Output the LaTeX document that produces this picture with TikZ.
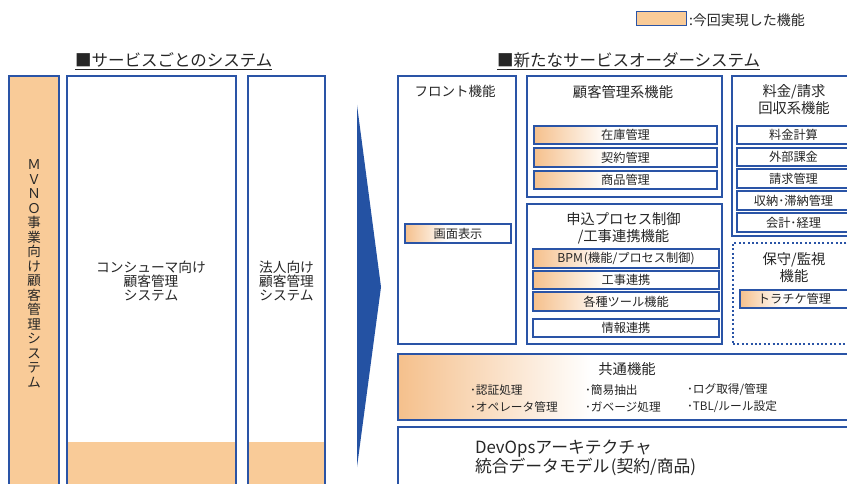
\documentclass[tikz,border=0pt]{standalone}
\usepackage{fontspec}
\setmainfont{Noto Sans CJK JP}
\definecolor{bblue}{RGB}{42,84,166}
\definecolor{ablue}{RGB}{36,82,163}
\definecolor{orfill}{RGB}{249,203,152}
\definecolor{gor}{RGB}{245,192,140}
\definecolor{tgray}{RGB}{38,38,38}
\pgfdeclarehorizontalshading{orfade}{100bp}{color(0bp)=(gor); color(25bp)=(gor); color(45bp)=(white); color(100bp)=(white)}
\newcommand\myfs[2]{\fontsize{#1}{#2}\selectfont}
\newcommand\bbox[7]{\node[#2, anchor=north west, minimum width={#5-#3}, minimum height={#6-#4}] (#1) at (#3,#4) {#7};}
\tikzset{
  bigbox/.style={draw=bblue, line width=2pt, fill=white, inner sep=0pt, outer sep=0pt},
  dotbox/.style={draw=bblue, line width=2pt, fill=white, inner sep=0pt, outer sep=0pt, dash pattern=on 2pt off 2.4pt},
  subbox/.style={draw=bblue, line width=1.3pt, fill=white, inner sep=0pt, outer sep=0pt, text=tgray, font=\myfs{12.2}{14}},
  gsub/.style={subbox, shade, shading=orfade},
  txt/.style={inner sep=0pt, outer sep=0pt, text=tgray},
}
\begin{document}
\begin{tikzpicture}[x=1pt,y=-1pt]
\useasboundingbox (0,0) rectangle (847,484);
\clip (0,0) rectangle (847,484);
\fill[white] (0,0) rectangle (847,484);

% legend
\bbox{leg}{draw=bblue, line width=1pt, fill=orfill, inner sep=0pt, outer sep=0pt}{636}{12}{686}{26}{}
\node[txt, anchor=west, font=\myfs{14}{16}] (legt) at (689,20) {:今回実現した機能};

% titles
\node[txt, anchor=west, font=\myfs{16.5}{18}] (t1) at (75,60) {■サービスごとのシステム};
\draw[tgray, line width=1pt] ([yshift=-1.8pt]t1.south west) -- ([yshift=-1.8pt]t1.south east);
\node[txt, anchor=west, font=\myfs{16.5}{18}] (t2) at (497,60) {■新たなサービスオーダーシステム};
\draw[tgray, line width=1pt] ([yshift=-1.8pt]t2.south west) -- ([yshift=-1.8pt]t2.south east);

% left systems
\bbox{mvno}{bigbox, fill=orfill}{9}{76}{59}{500}{}
\fill[orfill] (67,442) rectangle (236,500);
\fill[orfill] (248,442) rectangle (325,500);
\bbox{cons}{bigbox, fill=none}{67}{76}{236}{500}{}
\bbox{hojin}{bigbox, fill=none}{248}{76}{325}{500}{}
\node[txt, align=center, font=\myfs{13.5}{14.5}] (mvnot) at (34,274)
  {Ｍ\\Ｖ\\Ｎ\\Ｏ\\事\\業\\向\\け\\顧\\客\\管\\理\\シ\\ス\\テ\\ム};
\node[txt, align=center, font=\myfs{13.7}{14.2}] (const) at (151,281) {コンシューマ向け\\顧客管理\\システム};
\node[txt, align=center, font=\myfs{13.7}{14.2}] (hojint) at (286.5,281) {法人向け\\顧客管理\\システム};

% arrow
\fill[ablue] (357,105) -- (381,287) -- (357,467) -- cycle;

% front
\bbox{front}{bigbox}{398}{76}{516}{344}{}
\node[txt, font=\myfs{13.5}{16}] (frontt) at (455,91) {フロント機能};
\bbox{gamen}{gsub}{405}{224}{511}{243}{画面表示}

% customer mgmt
\bbox{kokyaku}{bigbox}{527}{76}{722}{197}{}
\node[txt, font=\myfs{14.3}{17}] (kokyakut) at (623,92) {顧客管理系機能};
\bbox{zaiko}{gsub}{534}{126}{717}{144}{在庫管理}
\bbox{keiyaku}{gsub}{534}{148}{717}{167}{契約管理}
\bbox{shohin}{gsub}{534}{171}{717}{189}{商品管理}

% order process
\bbox{moushi}{bigbox}{527}{204}{722}{344}{}
\node[txt, align=center, font=\myfs{14.3}{17}] (moushit) at (623.5,228) {申込プロセス制御\\/工事連携機能};
\bbox{bpm}{gsub}{533}{249}{719}{268}{BPM\kern1pt(機能/プロセス制御)}
\bbox{koji}{gsub}{533}{271}{719}{289}{工事連携}
\bbox{tool}{gsub}{533}{292}{719}{311}{各種ツール機能}
\bbox{joho}{subbox}{533}{319}{719}{337}{情報連携}

% billing
\bbox{ryokin}{bigbox}{732}{76}{880}{236}{}
\node[txt, align=center, font=\myfs{14.3}{17}] (ryokint) at (794,100) {料金/請求\\回収系機能};
\bbox{keisan}{subbox}{737}{126}{850}{144}{料金計算}
\bbox{gaibu}{subbox}{737}{148}{850}{166}{外部課金}
\bbox{seikyu}{subbox}{737}{169}{850}{188}{請求管理}
\bbox{shuno}{subbox}{737}{191}{850}{210}{収納･滞納管理}
\bbox{kaikei}{subbox}{737}{213}{850}{232}{会計･経理}

% maintenance
\bbox{hoshu}{dotbox}{733}{243}{880}{344}{}
\node[txt, align=center, font=\myfs{14.3}{17}] (hoshut) at (794,268) {保守/監視\\機能};
\bbox{torachike}{gsub}{740}{290}{849}{308}{トラチケ管理}

% common
\bbox{kyotsu}{bigbox, shade, shading=orfade}{398}{354}{880}{420}{}
\node[txt, font=\myfs{14.3}{17}] (kyotsut) at (627,369) {共通機能};
\node[txt, anchor=west, font=\myfs{11.7}{14}] (k1) at (470,390) {･認証処理};
\node[txt, anchor=west, font=\myfs{11.7}{14}] (k2) at (470,407) {･オペレータ管理};
\node[txt, anchor=west, font=\myfs{11.7}{14}] (k3) at (585,390) {･簡易抽出};
\node[txt, anchor=west, font=\myfs{11.7}{14}] (k4) at (585,407) {･ガベージ処理};
\node[txt, anchor=west, font=\myfs{11.7}{14}] (k5) at (687,390) {･ログ取得/管理};
\node[txt, anchor=west, font=\myfs{11.7}{14}] (k6) at (687,407) {･TBL/ルール設定};

% devops
\bbox{devops}{bigbox}{398}{427}{880}{510}{}
\node[txt, anchor=west, align=left, font=\myfs{16.8}{17.5}] (devopst) at (475,457.5) {DevOpsアーキテクチャ\\統合データモデル\kern1.5pt(契約/商品)};
\end{tikzpicture}
\end{document}
